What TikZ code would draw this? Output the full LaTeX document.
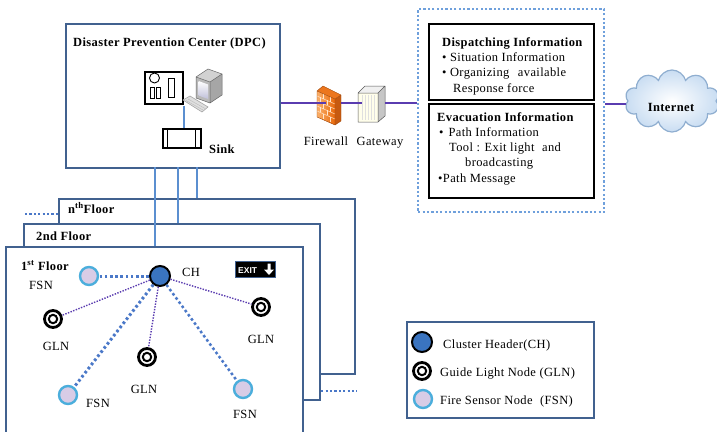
\documentclass[tikz,border=0pt]{standalone}
\usepackage{fontspec}
\setmainfont{Liberation Serif}[LetterSpace=3]
\newfontfamily\signfont{Liberation Sans}
\usetikzlibrary{shapes.symbols,calc}

\definecolor{frameblue}{HTML}{41618F}
\definecolor{feedblue}{HTML}{5B8FD0}
\definecolor{linkpurple}{HTML}{5A3CB0}
\definecolor{dotblue}{HTML}{4A78C8}
\definecolor{chblue}{HTML}{3A74C0}
\definecolor{fsnfill}{HTML}{D8CCE6}
\definecolor{fsnring}{HTML}{4BAEDC}
\definecolor{infodot}{HTML}{6FA0DC}
\definecolor{cloudfill}{HTML}{C9DDF2}
\definecolor{cloudline}{HTML}{8FAED0}
\definecolor{fwlight}{HTML}{FBB06A}
\definecolor{fwdark}{HTML}{E8680A}
\definecolor{fwside}{HTML}{C65A10}

\begin{document}
\begin{tikzpicture}[x=1pt,y=-1pt,
  font=\fontsize{12.5}{14}\selectfont,
  frame/.style={draw=frameblue, line width=2.2, fill=white, anchor=north west, inner sep=0},
  infobox/.style={draw=black, line width=1.5, fill=white, anchor=north west, inner sep=0},
  txt/.style={inner sep=0, anchor=base west},
  ctxt/.style={inner sep=0, anchor=base},
  ch/.style={circle, fill=chblue, draw=black, line width=2, minimum size=20, inner sep=0},
  gln/.style={circle, fill=white, draw=black, line width=2.8, minimum size=17, inner sep=0,
    path picture={\draw[line width=2] (path picture bounding box.center) circle (4.2);}},
  fsn/.style={circle, fill=fsnfill, draw=fsnring, line width=2.4, minimum size=18, inner sep=0},
  feed/.style={draw=feedblue, line width=1.2},
  link/.style={draw=linkpurple, line width=1.4},
  thickdot/.style={draw=dotblue, line width=3, dash pattern=on 2.6pt off 2.6pt},
  thindot/.style={draw=linkpurple, line width=1.4, dash pattern=on 1.4pt off 1.4pt},
  tail/.style={draw=dotblue, line width=2.2, dash pattern=on 2.2pt off 2.2pt}
]
\useasboundingbox (0,0) rectangle (717,431);

% ---------------- Disaster Prevention Center ----------------
\node[frame, minimum width=214, minimum height=144] (dpc) at (65,23) {};
\node[txt] (dpctitle) at (73,46) {\bfseries Disaster Prevention Center (DPC)};

% workstation tower
\node[draw=black, line width=2, fill=white, minimum width=38, minimum height=32, anchor=north west, inner sep=0] (tower) at (144,71) {};
\draw[line width=0.9] (154.5,78) circle (5);
\draw[line width=0.9] (150,87) rectangle (154,98);
\draw[line width=0.9] (156,87) rectangle (160,98);
\draw[line width=0.9] (168,78) rectangle (174,97);

% monitor
\fill[gray!35] (196,77) -- (208,69) -- (222,74) -- (210,82) -- cycle;
\fill[gray!70] (210,82) -- (222,74) -- (222,95) -- (210,103) -- cycle;
\fill[gray!55] (196,77) -- (210,82) -- (210,103) -- (196,98) -- cycle;
\shade[top color=white, bottom color=blue!25!gray!40] (198.5,81) -- (208,84.5) -- (208,99) -- (198.5,95.5) -- cycle;
\draw[gray!80!black, line width=0.5] (196,77) -- (208,69) -- (222,74) -- (222,95) -- (210,103) -- (196,98) -- cycle (196,77) -- (210,82) -- (210,103) (210,82) -- (222,74);

% keyboard
\fill[gray!25] (183,100) -- (190,96) -- (208,107) -- (202,112) -- cycle;
\draw[gray!70, line width=0.6] (183,100) -- (190,96) -- (208,107) -- (202,112) -- cycle;
\draw[gray!55, line width=0.4] (186,100.5) -- (203,110) (188,99) -- (205,108.5);

% sink
\node[draw=black, line width=1.5, fill=white, minimum width=38, minimum height=19, anchor=north west, inner sep=0] (sink) at (162,128) {};
\draw[line width=1] (167,128) -- (167,147) (195,128) -- (195,147);
\node[txt] (sinklabel) at (209,153) {\bfseries Sink};
\coordinate (kbd) at (184,106);
\draw[feed] (kbd) -- (kbd |- sink.north);

% ---------------- firewall and gateway ----------------
\coordinate (fwin) at (326,103);
\coordinate (fwout) at (341,103);
\coordinate (gwin) at (362,103);
\coordinate (gwout) at (385,103);
\draw[link] (dpc.east |- fwin) -- (fwin);

% firewall
\fill[fwdark!80!fwlight] (317,91) -- (323,86) -- (341,95) -- (335,99) -- cycle;
\fill[fwside] (335,99) -- (341,95) -- (341,121) -- (335,125) -- cycle;
\shade[left color=fwlight, right color=fwdark] (317,91) -- (335,99) -- (335,125) -- (317,117) -- cycle;
\foreach \t in {5,10,15,20}
  \draw[white!80!orange, line width=0.5] (317,91+\t) -- (335,99+\t);
\foreach \t/\x in {0/323,0/330,5/320,5/327,10/323,10/330,15/320,15/327,20/323,20/330}
  \draw[white!80!orange, line width=0.5] (\x,{91+\t+(\x-317)*8/18}) -- (\x,{96+\t+(\x-317)*8/18});
\draw[fwside!80!black, line width=0.4] (317,91) -- (323,86) -- (341,95) -- (341,121) -- (335,125) -- (317,117) -- cycle (317,91) -- (335,99) -- (335,125) (335,99) -- (341,95);
\draw[link] (317,103) -- (fwin);
\node[ctxt] (fwlabel) at (326,145) {Firewall};

% gateway
\fill[gray!12] (358,93) -- (365,86) -- (385,86) -- (378,93) -- cycle;
\fill[gray!45] (378,93) -- (385,86) -- (385,116) -- (378,122) -- cycle;
\fill[white!92!yellow] (358,93) rectangle (378,122);
\foreach \x in {362,365,368,371,374}
  \draw[gray!25, line width=0.4] (\x,95) -- (\x,120);
\draw[gray!70!black, line width=0.5] (358,93) -- (365,86) -- (385,86) -- (385,116) -- (378,122) -- (358,122) -- cycle (358,93) -- (378,93) -- (378,122) (378,93) -- (385,86);
\draw[link] (fwout) -- (gwin);
\node[ctxt] (gwlabel) at (380,145) {Gateway};

% ---------------- information panel ----------------
\node[draw=infodot, line width=2.2, dash pattern=on 2.2pt off 2.2pt, minimum width=186, minimum height=203, anchor=north west, inner sep=0] (info) at (417,8) {};
\draw[link] (gwout) -- (gwout -| info.west);

\node[infobox, minimum width=165, minimum height=76] (dispatch) at (428,23) {};
\node[txt] (dtitle) at (442,46) {\bfseries Dispatching Information};
\node[txt] (d1) at (442,61) {• Situation Information};
\node[txt] (d2) at (442,76) {• Organizing\hspace{5pt} available};
\node[txt] (d3) at (453,92) {Response force};

\node[infobox, minimum width=165, minimum height=94] (evac) at (428,103) {};
\node[txt] (etitle) at (437,121) {\bfseries Evacuation Information};
\node[txt] (e1) at (439,136) {•\hspace{5pt}Path Information};
\node[txt] (e2) at (449,151) {Tool : Exit light\hspace{4pt} and};
\node[txt] (e3) at (465,166) {broadcasting};
\node[txt] (e4) at (438,182) {•Path Message};

% ---------------- internet ----------------
\node[cloud, cloud puffs=10, aspect=1.5, minimum width=94, minimum height=62, draw=cloudline, line width=1.2, inner color=white, outer color=cloudfill, inner sep=0] (net) at (672,101) {};
\node[ctxt] (nettext) at (671,111) {\bfseries Internet};
\coordinate (netin) at (626,104);
\draw[link] (info.east |- netin) -- (netin);

% ---------------- floors ----------------
\node[frame, minimum width=296, minimum height=175] (floorn) at (58,198) {};
\node[txt] (floornlabel) at (68,213) {\bfseries n\textsuperscript{th}Floor};
\node[frame, minimum width=296, minimum height=176] (floor2) at (23,223) {};
\node[txt] (floor2label) at (36,240) {\bfseries 2nd Floor};
\node[frame, minimum width=297, minimum height=200] (floor1) at (5,246) {};
\node[txt] (floor1label) at (21,270) {\bfseries 1\textsuperscript{st} Floor};

% risers from the sink down to each floor
\coordinate (r1) at (155,167);
\coordinate (r2) at (178,167);
\coordinate (r3) at (197,167);
\draw[feed] (r1) -- (r1 |- floor1.north);
\draw[feed] (r2) -- (r2 |- floor2.north);
\draw[feed] (r3) -- (r3 |- floorn.north);

% further floors
\coordinate (moreleft) at (25,214);
\coordinate (moreright) at (357,391);
\draw[tail] (moreleft) -- (moreleft -| floorn.west);
\draw[tail] (floor2.east |- moreright) -- (moreright);

% exit sign
\node[fill=black, draw=frameblue, line width=1.4, minimum width=40, minimum height=16, anchor=north west, inner sep=0] (exitsign) at (235,261) {};
\node[inner sep=0, anchor=base west, text=white] (exittext) at (238,273) {\signfont\bfseries\fontsize{8.5}{9}\selectfont EXIT};
\fill[white] (267.5,263.5) rectangle (270.5,269.5) (264,269.5) -- (274,269.5) -- (269,275) -- cycle;

% sensor network on the first floor
\node[ch] (ch) at (160,276) {};
\node[fsn] (fsnA) at (89,276) {};
\node[gln] (glnA) at (53,319) {};
\node[gln] (glnB) at (147,357) {};
\node[gln] (glnC) at (261,307) {};
\node[fsn] (fsnB) at (68,395) {};
\node[fsn] (fsnC) at (243,389) {};

\draw[thickdot] (ch) -- (fsnA);
\draw[thickdot] (ch) -- (fsnB);
\draw[thickdot, line width=2.5] (ch) -- (fsnC);
\draw[thindot] (ch) -- (glnA);
\draw[thindot] (ch) -- (glnB);
\draw[thindot] (ch) -- (glnC);

\node[ctxt] (chlabel) at (191,276) {CH};
\node[ctxt] (fsnAlabel) at (41,289) {FSN};
\node[ctxt] (glnAlabel) at (56,350) {GLN};
\node[ctxt] (glnBlabel) at (144,393) {GLN};
\node[ctxt] (glnClabel) at (261,343) {GLN};
\node[ctxt] (fsnBlabel) at (98,407) {FSN};
\node[ctxt] (fsnClabel) at (245,418) {FSN};

% ---------------- legend ----------------
\node[frame, minimum width=187, minimum height=96] (legend) at (406,321) {};
\node[ch] (legch) at (422,342) {};
\node[gln] (leggln) at (422,371) {};
\node[fsn] (legfsn) at (423,399) {};
\node[txt] (legchtext) at (443,348) {Cluster Header(CH)};
\node[txt] (legglntext) at (440,376) {Guide Light Node (GLN)};
\node[txt] (legfsntext) at (440,404) {Fire Sensor Node\hspace{4pt} (FSN)};
\end{tikzpicture}
\end{document}
